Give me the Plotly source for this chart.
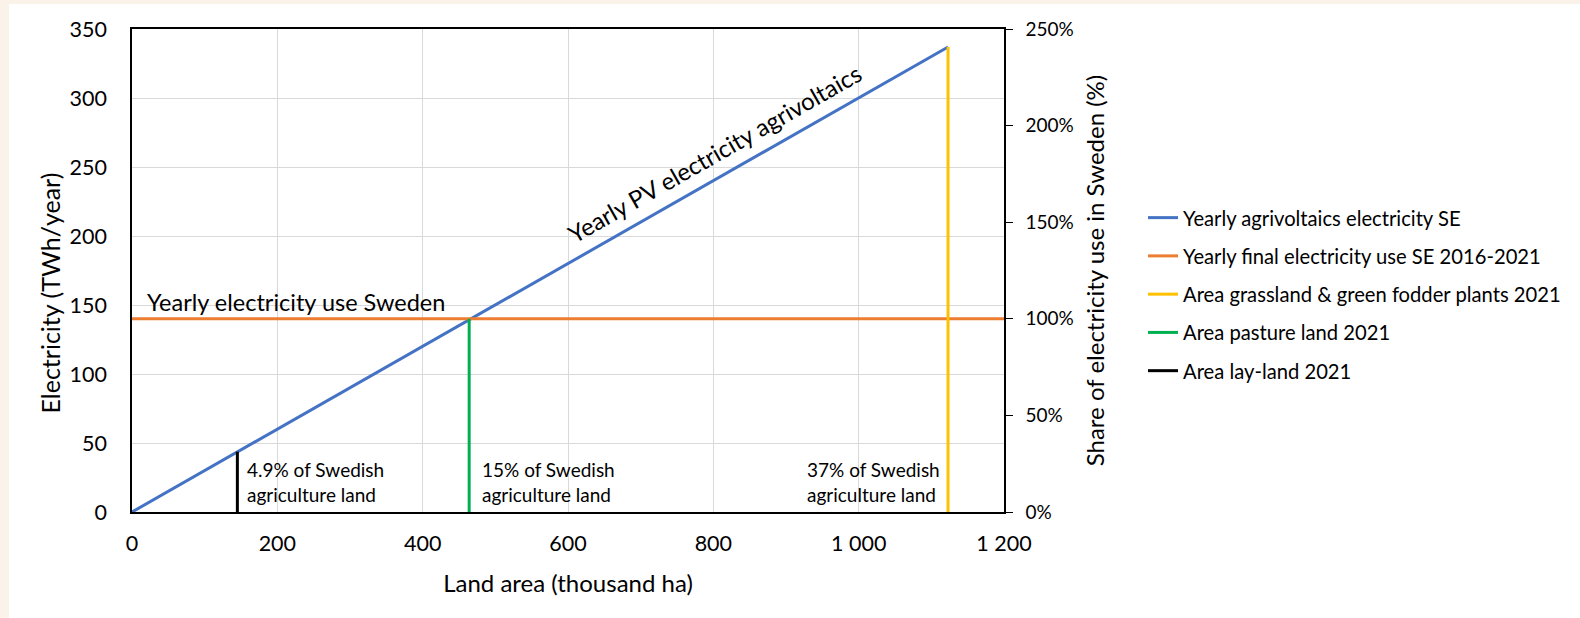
import plotly.graph_objects as go

# ---- data ----
pv_area = [0, 1123]            # thousand ha
pv_twh = [0, 337]              # TWh/year
use_area = [0, 1200]
use_twh = [140, 140]
grass_area = [1123, 1123]
grass_twh = [0, 337]
pasture_area = [464, 464]
pasture_twh = [0, 140]
lay_area = [145, 145]
lay_twh = [0, 43.7]
share_labels = ["4.9% of Swedish<br>agriculture land",
                "15% of Swedish<br>agriculture land",
                "37% of Swedish<br>agriculture land"]
names = ["Yearly agrivoltaics electricity SE",
         "Yearly final electricity use SE 2016-2021",
         "Area grassland & green fodder plants 2021",
         "Area pasture land 2021",
         "Area lay-land 2021"]

FONT = "Lato"
W, H = 1580, 618
L, R, T, B = 132, 576, 29, 106
pw = W - L - R
ph = H - T - B

def px_x(px):
    return (px - L) / pw

def px_y(py):
    return (H - B - py) / ph

fig = go.Figure()
fig.add_trace(go.Scatter(x=pv_area, y=pv_twh, mode="lines", name=names[0],
                         line=dict(color="#4472C4", width=3), legendgroup="a"))
fig.add_trace(go.Scatter(x=use_area, y=use_twh, mode="lines", name=names[1],
                         line=dict(color="#ED7D31", width=3), legendgroup="b"))
fig.add_trace(go.Scatter(x=grass_area, y=grass_twh, mode="lines", name=names[2],
                         line=dict(color="#FFC000", width=3), legendgroup="c"))
fig.add_trace(go.Scatter(x=pasture_area, y=pasture_twh, mode="lines", name=names[3],
                         line=dict(color="#00B050", width=3), legendgroup="d"))
fig.add_trace(go.Scatter(x=lay_area, y=lay_twh, mode="lines", name=names[4],
                         line=dict(color="#000000", width=3), legendgroup="e"))
# share axis carrier (invisible)
fig.add_trace(go.Scatter(x=use_area, y=[v / use_twh[0] for v in use_twh], yaxis="y2",
                         mode="lines", line=dict(width=0, color="rgba(0,0,0,0)"),
                         showlegend=False, hoverinfo="skip"))

annotations = [
    dict(x=17.9, y=152.5, xref="x", yref="y", text="Yearly electricity use Sweden",
         showarrow=False, xanchor="left", yanchor="middle",
         font=dict(family=FONT, size=23.5, color="#000")),
    dict(x=801, y=260, xref="x", yref="y", text="Yearly PV electricity agrivoltaics",
         showarrow=False, xanchor="center", yanchor="middle", textangle=-29.7,
         font=dict(family=FONT, size=24, color="#000")),
    dict(x=px_x(49), y=px_y(293.5), xref="paper", yref="paper",
         text="Electricity (TWh/year)", showarrow=False, textangle=-90,
         xanchor="center", yanchor="middle",
         font=dict(family=FONT, size=25, color="#000")),
]
label_x = [155, 479, 926]
for lx, t in zip(label_x, share_labels):
    annotations.append(dict(x=lx, y=21.4, xref="x", yref="y", text=t,
                            showarrow=False, xanchor="left", yanchor="middle", align="left",
                            font=dict(family=FONT, size=19, color="#000")))

shapes = [
    dict(type="rect", xref="paper", yref="paper", x0=px_x(0), x1=px_x(9),
         y0=px_y(H), y1=px_y(0), fillcolor="#FBF3EA", line=dict(width=0), layer="below"),
    dict(type="rect", xref="paper", yref="paper", x0=px_x(0), x1=px_x(W),
         y0=px_y(4), y1=px_y(0), fillcolor="#FBF3EA", line=dict(width=0), layer="below"),
]

fig.update_layout(
    width=W, height=H,
    margin=dict(l=L, r=R, t=T, b=B, autoexpand=False),
    paper_bgcolor="white", plot_bgcolor="white",
    font=dict(family=FONT, size=22, color="#000"),
    separators=". ",
    showlegend=True,
    legend=dict(x=px_x(1143), y=px_y(198), xanchor="left", yanchor="top",
                font=dict(family=FONT, size=20.2, color="#000"),
                traceorder="grouped", tracegroupgap=9,
                bgcolor="rgba(0,0,0,0)"),
    xaxis=dict(range=[0, 1200], dtick=200, tickformat=",", showgrid=True,
               gridcolor="#D9D9D9", gridwidth=1.3, showline=True, linecolor="#000",
               linewidth=1.5, mirror=True, ticks="", zeroline=False,
               ticklabelstandoff=11, tickfont=dict(family=FONT, size=21.5),
               title=dict(text="Land area (thousand ha)", standoff=21,
                          font=dict(family=FONT, size=24))),
    yaxis=dict(range=[0, 350], dtick=50, showgrid=True, gridcolor="#D9D9D9",
               gridwidth=1.3, showline=True, linecolor="#000", linewidth=1.5,
               ticks="", zeroline=False, ticklabelstandoff=19,
               tickfont=dict(family=FONT, size=21.5)),
    yaxis2=dict(range=[0, 2.5], dtick=0.5, tickformat=".0%", overlaying="y",
                side="right", showgrid=False, showline=True, linecolor="#000",
                linewidth=1.5, ticks="outside", ticklen=7, tickcolor="#000",
                tickwidth=1.3, zeroline=False, ticklabelstandoff=9,
                tickfont=dict(family=FONT, size=19),
                title=dict(text="Share of electricity use in Sweden (%)", standoff=14,
                           font=dict(family=FONT, size=24))),
    annotations=annotations,
    shapes=shapes,
)

fig.write_html("out.html", config={"displayModeBar": False},
               post_script="document.body.style.margin='0px';document.body.style.overflow='hidden';")
